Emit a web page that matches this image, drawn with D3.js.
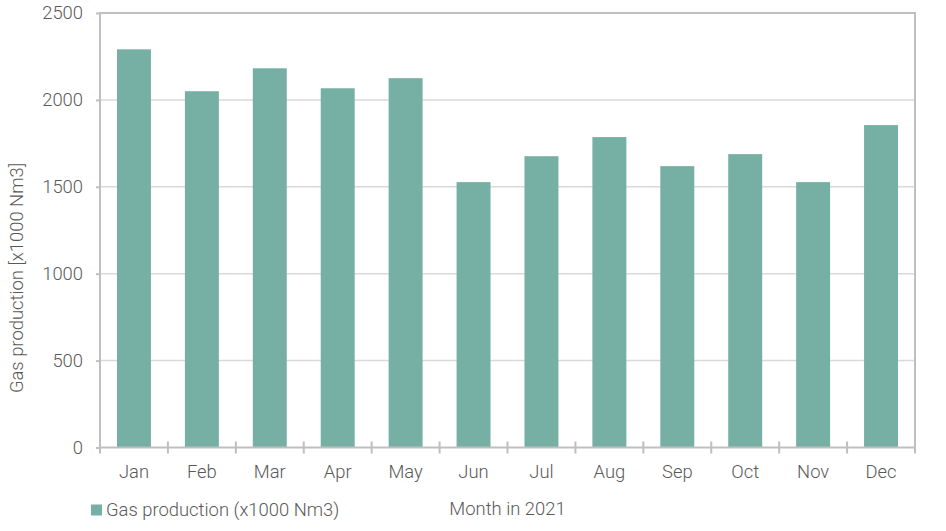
<!DOCTYPE html>
<html>
<head>
<meta charset="utf-8">
<script src="https://cdn.jsdelivr.net/npm/d3@7"></script>
<style>
  html, body { margin: 0; padding: 0; background: #fff; }
  svg { display: block; }
  text { font-family: Roboto, "Liberation Sans", sans-serif; font-weight: 300; fill: #595959; }
</style>
</head>
<body>
<svg id="chart" width="946" height="531"></svg>
<script>
const months = ["Jan","Feb","Mar","Apr","May","Jun","Jul","Aug","Sep","Oct","Nov","Dec"];
const gasProduction = [2291, 2050, 2182, 2067, 2125, 1527, 1676, 1786, 1619, 1688, 1527, 1855];
const yTicks = [0, 500, 1000, 1500, 2000, 2500];
const seriesName = "Gas production (x1000 Nm3)";
const xTitle = "Month in 2021";
const yTitle = "Gas production [x1000 Nm3]";

const svg = d3.select("#chart");
const mLeft = 100, mRight = 915, mTop = 13, mBottom = 447.5;
const barColor = "#76afa4";
const axisColor = "#bfbfbf";
const gridColor = "#d9d9d9";
const fs = 18.4;

const x = d3.scaleBand().domain(months).range([mLeft, mRight]).paddingInner(0.5).paddingOuter(0.25);
const y = d3.scaleLinear().domain([0, 2500]).range([mBottom, mTop]);

// gridlines
svg.append("g").selectAll("line").data(yTicks.filter(d => d > 0)).join("line")
  .attr("x1", mLeft).attr("x2", mRight)
  .attr("y1", d => y(d)).attr("y2", d => y(d))
  .attr("stroke", d => d === 2500 ? axisColor : gridColor).attr("stroke-width", d => d === 2500 ? 2 : 1.5);

// bars
svg.append("g").selectAll("rect").data(gasProduction).join("rect")
  .attr("x", (d, i) => x(months[i]))
  .attr("width", x.bandwidth())
  .attr("y", d => y(d))
  .attr("height", d => y(0) - y(d))
  .attr("fill", barColor);

// right border
svg.append("line").attr("x1", mRight).attr("x2", mRight).attr("y1", mTop - 1).attr("y2", mBottom + 6)
  .attr("stroke", axisColor).attr("stroke-width", 2);

// y axis
const yAxis = d3.axisLeft(y).tickValues(yTicks).tickSize(4).tickPadding(13).tickFormat(d3.format("d"));
const gy = svg.append("g").attr("transform", `translate(${mLeft},0)`).call(yAxis);
gy.select(".domain").remove();
gy.append("line").attr("x1", 0).attr("x2", 0).attr("y1", mTop - 1).attr("y2", mBottom + 6)
  .attr("stroke", axisColor).attr("stroke-width", 2);
gy.selectAll(".tick line").attr("stroke", axisColor).attr("stroke-width", 2);
gy.selectAll(".tick text").attr("font-size", fs).attr("fill", "#595959")
  .style("font-family", "Roboto, 'Liberation Sans', sans-serif").style("font-weight", 300);

// x axis
const xAxis = d3.axisBottom(x).tickSize(0).tickPadding(17.5);
const gx = svg.append("g").attr("transform", `translate(0,${mBottom})`).call(xAxis);
gx.select(".domain").remove();
gx.append("line").attr("x1", mLeft).attr("x2", mRight).attr("y1", 0).attr("y2", 0)
  .attr("stroke", axisColor).attr("stroke-width", 2);
gx.selectAll(".tick line").remove();
gx.selectAll(".tick text").attr("font-size", fs).attr("fill", "#595959")
  .style("font-family", "Roboto, 'Liberation Sans', sans-serif").style("font-weight", 300);
// category boundary tick marks
const bounds = d3.range(months.length).map(i => x(months[i]) - x.bandwidth() * 0.5).slice(1);
gx.append("g").selectAll("line").data(bounds).join("line")
  .attr("x1", d => d).attr("x2", d => d).attr("y1", -6).attr("y2", 6)
  .attr("stroke", axisColor).attr("stroke-width", 2);

// axis titles
svg.append("text").attr("x", (mLeft + mRight) / 2).attr("y", 515).attr("text-anchor", "middle")
  .attr("font-size", fs).text(xTitle);
svg.append("text").attr("transform", "translate(23,278) rotate(-90)").attr("text-anchor", "middle")
  .attr("font-size", fs).text(yTitle);

// legend
svg.append("rect").attr("x", 91).attr("y", 504.5).attr("width", 11).attr("height", 11).attr("fill", barColor);
svg.append("text").attr("x", 106).attr("y", 515.5).attr("font-size", fs).text(seriesName);
</script>
</body>
</html>
